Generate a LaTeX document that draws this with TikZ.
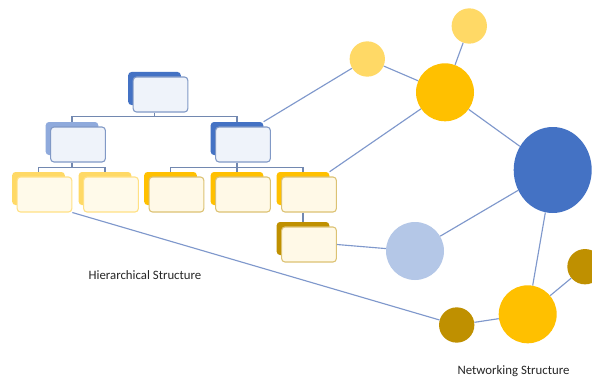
\documentclass[tikz,border=0pt]{standalone}
\usepackage{fontspec}
\setmainfont{Carlito}
\usetikzlibrary{positioning, shapes.geometric}
\definecolor{blueDark}{HTML}{4472C4}
\definecolor{blueMid}{HTML}{8FAADC}
\definecolor{blueLight}{HTML}{B4C7E7}
\definecolor{yelLight}{HTML}{FFD966}
\definecolor{yelMid}{HTML}{FFC000}
\definecolor{goldDark}{HTML}{BF9000}
\definecolor{linkcol}{HTML}{7F98CC}

\begin{document}
\begin{tikzpicture}[
    x=0.75pt, y=-0.75pt,
    back/.style={rectangle, rounded corners=2.5pt, minimum width=39.5pt, minimum height=24.75pt, inner sep=0pt},
    front/.style={rectangle, rounded corners=2.5pt, draw, line width=0.8pt, minimum width=41pt,
                  minimum height=26.25pt, inner sep=0pt},
    fblue/.style={front, fill=blueMid!14, draw=blueMid!90!black},
    fyel/.style={front, fill=yelLight!14, draw=yelLight!80},
    ftan/.style={front, fill=yelLight!16, draw=goldDark!55},
    tree/.style={draw=blueMid!80!black, line width=0.8pt},
    link/.style={draw=linkcol, line width=0.85pt},
    dot/.style={circle, inner sep=0pt, minimum size=26.5pt},
    hub/.style={circle, inner sep=0pt, minimum size=43.5pt},
    caption/.style={font=\fontsize{9.6}{11}\selectfont, text=black!85}
]
    \clip (0,0) rectangle (592,378);
    \fill[white] (0,0) rectangle (592,378);

    % hierarchy: back shapes
    \node[back, fill=blueDark] (topB) at (154.5,88.5) {};
    \node[back, fill=blueMid] (l2aB) at (72,138.5) {};
    \node[back, fill=blueDark] (l2bB) at (237,138.5) {};
    \node[back, fill=yelLight] (l3aB) at (38.5,188.5) {};
    \node[back, fill=yelLight] (l3bB) at (105,188.5) {};
    \node[back, fill=yelMid] (l3cB) at (170.5,188.5) {};
    \node[back, fill=yelMid] (l3dB) at (237,188.5) {};
    \node[back, fill=yelMid] (l3eB) at (303,188.5) {};
    \node[back, fill=goldDark] (l4B) at (303,238.5) {};

    % hierarchy: front cards
    \node[fblue] (top) at ([shift={(6,6)}]topB.center) {};
    \node[fblue] (l2a) at ([shift={(6,6)}]l2aB.center) {};
    \node[fblue] (l2b) at ([shift={(6,6)}]l2bB.center) {};
    \node[fyel] (l3a) at ([shift={(6,6)}]l3aB.center) {};
    \node[fyel] (l3b) at ([shift={(6,6)}]l3bB.center) {};
    \node[ftan] (l3c) at ([shift={(6,6)}]l3cB.center) {};
    \node[ftan] (l3d) at ([shift={(6,6)}]l3dB.center) {};
    \node[ftan] (l3e) at ([shift={(6,6)}]l3eB.center) {};
    \node[ftan] (l4) at ([shift={(6,6)}]l4B.center) {};

    % tree connectors
    \draw[tree] (topB.center |- top.south) -- ++(0,4) coordinate (barA);
    \draw[tree] (l2aB.north) |- (barA) -| (l2bB.north);
    \draw[tree] (l2aB.center |- l2a.south) -- ++(0,5) coordinate (barB);
    \draw[tree] (l3aB.north) |- (barB) -| (l3bB.north);
    \draw[tree] (l2bB.center |- l2b.south) -- ++(0,5) coordinate (barC);
    \draw[tree] (l3cB.north) |- (barC) -| (l3eB.north);
    \draw[tree] (l3dB.north) -- (barC);
    \draw[tree] (l3eB.center |- l3e.south) -- (l4B.north);

    % network
    \node[dot, fill=yelLight] (nTop) at (469.3,26) {};
    \node[dot, fill=yelLight] (nLeft) at (367.3,59) {};
    \node[hub, fill=yelMid] (nHub) at (445,92.3) {};
    \node[ellipse, inner sep=0pt, minimum width=58.5pt, minimum height=64.5pt, fill=blueDark] (nBig) at (552.7,170) {};
    \node[hub, fill=blueLight] (nPale) at (415,251) {};
    \node[hub, fill=yelMid] (nLow) at (527.7,314.3) {};
    \node[dot, fill=goldDark] (nGold) at (456.7,325) {};
    \node[dot, fill=goldDark] (nEdge) at (585,266.7) {};

    % links
    \draw[link] (l2bB.north east) -- (nLeft);
    \draw[link] (nLeft) -- (nHub);
    \draw[link] (nTop) -- (nHub);
    \draw[link] (nHub) -- (l3eB.north east);
    \draw[link] (nHub) -- (nBig);
    \draw[link] (nBig) -- (nPale);
    \draw[link] (nPale) -- (l4.east);
    \draw[link] (nBig) -- (nLow);
    \draw[link] (nLow) -- (nEdge);
    \draw[link] (nLow) -- (nGold);
    \draw[link] (nGold) -- (l3a.south east);

    \node[caption] (capH) at (145,275) {Hierarchical Structure};
    \node[caption] (capN) at (513.5,371) {Networking Structure};
\end{tikzpicture}
\end{document}
